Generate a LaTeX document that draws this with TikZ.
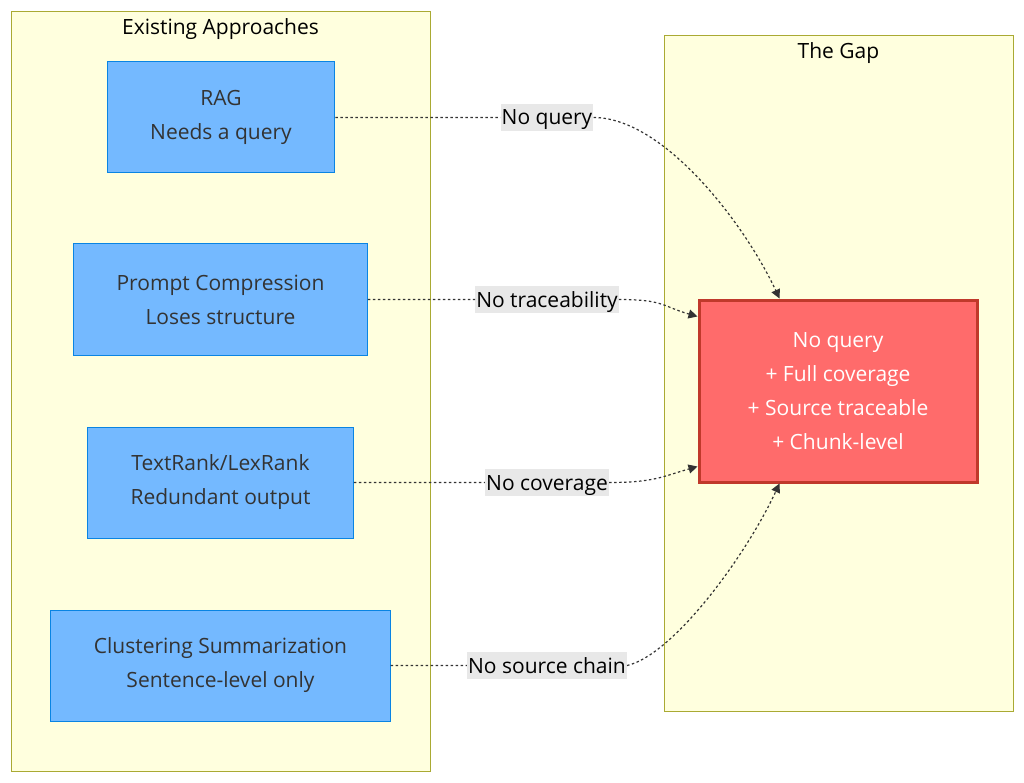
\documentclass[tikz,border=0pt]{standalone}
\usepackage{fontspec}
\setmainfont{Open Sans}
\usepackage{xcolor}
\usetikzlibrary{positioning,arrows.meta}

\definecolor{clusterfill}{HTML}{FFFFDE}
\definecolor{clusterline}{HTML}{AAAA33}
\definecolor{approachfill}{HTML}{74B9FF}
\definecolor{approachline}{HTML}{0984E3}
\definecolor{gapfill}{HTML}{FF6B6B}
\definecolor{gapline}{HTML}{C0392B}
\definecolor{labelfill}{HTML}{E8E8E8}
\definecolor{inkgray}{HTML}{333333}

\begin{document}
\begin{tikzpicture}[x=1pt, y=-1pt, font=\fontsize{21}{34}\selectfont,
  cluster/.style={draw=clusterline, fill=clusterfill, line width=1pt, inner sep=0pt},
  approach/.style={draw=approachline, fill=approachfill, line width=1pt, align=center, text=inkgray, minimum height=111pt, inner xsep=43pt},
  gapbox/.style={draw=gapline, fill=gapfill, line width=3pt, align=center, text=white, minimum width=278pt, minimum height=182pt},
  edgelabel/.style={fill=labelfill, text=black, inner xsep=1pt, inner ysep=4pt, text depth=2pt, text height=17pt},
  edge/.style={-{Triangle[length=9pt, width=9pt]}, draw=inkgray, line width=1.2pt, dash pattern=on 2.5pt off 2.5pt}]
\useasboundingbox (0,0) rectangle (1024,783);

% clusters
\node[cluster, minimum width=419pt, minimum height=759pt] (existing) at (220.5,391.5) {};
\node[text=black] (existingtitle) at (220.5,29) {Existing Approaches};
\node[cluster, minimum width=349pt, minimum height=675pt] (gaparea) at (838.5,373.5) {};
\node[text=black] (gaptitle) at (838.5,53) {The Gap};

% existing approaches
\node[approach] (rag) at (221,117.5) {RAG\\Needs a query};
\node[approach] (compress) at (220.5,299.5) {Prompt Compression\\Loses structure};
\node[approach] (textrank) at (220.5,482.5) {TextRank/LexRank\\Redundant output};
\node[approach] (cluster) at (220.5,665.5) {Clustering Summarization\\Sentence-level only};

% the gap
\node[gapbox] (gap) at (838,391) {No query\\+ Full coverage\\+ Source traceable\\+ Chunk-level};

% labels
\node[edgelabel] (noquery) at (547,117.5) {No query};
\node[edgelabel] (notrace) at (547,299.5) {No traceability};
\node[edgelabel] (nocover) at (547,482.5) {No coverage};
\node[edgelabel] (nosource) at (547,665.5) {No source chain};

% edges
\draw[edge] (rag.east) -- (noquery.west) (noquery.east) .. controls +(70,0) and +(-35,-75) .. ([xshift=82pt]gap.north west);
\draw[edge] (compress.east) -- (notrace.west) (notrace.east) .. controls +(45,0) and +(-35,-10) .. ([yshift=-18pt]gap.north west);
\draw[edge] (textrank.east) -- (nocover.west) (nocover.east) .. controls +(45,0) and +(-35,10) .. ([yshift=17pt]gap.south west);
\draw[edge] (cluster.east) -- (nosource.west) (nosource.east) .. controls +(45,-10) and +(-35,75) .. ([xshift=82pt]gap.south west);
\end{tikzpicture}
\end{document}
